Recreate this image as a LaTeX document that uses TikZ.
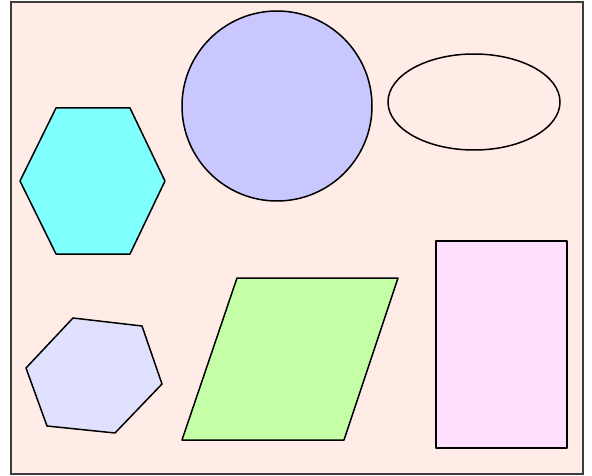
\documentclass[tikz,border=0pt]{standalone}
\begin{document}
\begin{tikzpicture}[x=1pt,y=-1pt,
  outlined/.style={draw=black,line width=1.5pt,line join=round}]
\definecolor{bgpink}{RGB}{255,236,230}
\definecolor{cyanfill}{RGB}{128,255,255}
\definecolor{circfill}{RGB}{200,200,255}
\definecolor{hexfill}{RGB}{224,224,255}
\definecolor{greenfill}{RGB}{196,255,168}
\definecolor{rectfill}{RGB}{255,224,255}
\definecolor{framecol}{RGB}{60,60,60}
\useasboundingbox (0,0) rectangle (592,476);
\fill[white] (0,0) rectangle (592,476);
\draw[fill=bgpink,draw=framecol,line width=1.5pt] (11,2) rectangle (583,474);
% cyan hexagon
\draw[outlined,fill=cyanfill] (56,108) -- (130,108) -- (165,181) -- (130,254) -- (56,254) -- (20,181) -- cycle;
% circle
\draw[outlined,fill=circfill] (277,106) circle[radius=95];
% ellipse
\draw[outlined,fill=bgpink] (474,102) ellipse[x radius=86,y radius=48];
% rotated hexagon
\draw[outlined,fill=hexfill] (73,318) -- (142,326) -- (162,384) -- (115,433) -- (47,426) -- (26,368) -- cycle;
% parallelogram
\draw[outlined,fill=greenfill] (237,278) -- (398,278) -- (344,440) -- (182,440) -- cycle;
% rectangle
\draw[outlined,fill=rectfill] (436,241) rectangle (567,448);
\end{tikzpicture}
\end{document}
